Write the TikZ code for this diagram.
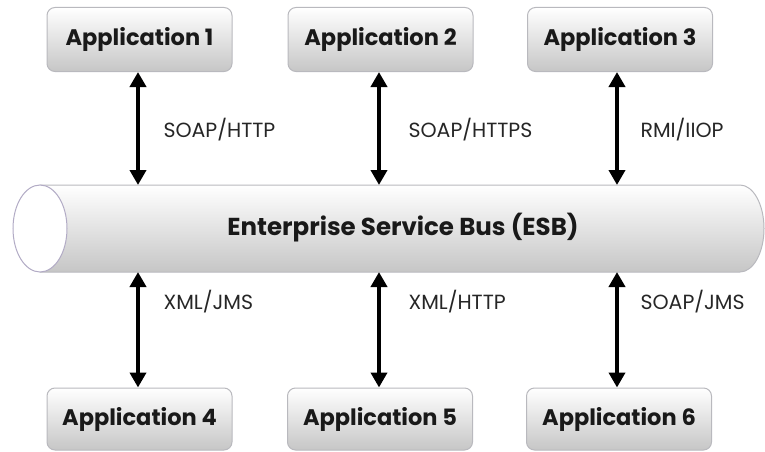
\documentclass[tikz,border=0pt]{standalone}
\usepackage{fontspec}
\setmainfont{Poppins}
\usetikzlibrary{arrows.meta}
\definecolor{boxedge}{RGB}{185,185,190}
\definecolor{boxbot}{RGB}{198,198,198}
\definecolor{capedge}{RGB}{175,165,200}
\tikzset{
  appbox/.style={rounded corners=8pt, minimum width=185pt, minimum height=64pt,
    draw=boxedge, line width=1pt, top color=white, bottom color=boxbot,
    font=\fontsize{22.5}{26}\selectfont\bfseries, text=black!90},
  link/.style={line width=4.5pt, {Triangle[length=15pt,width=16pt]}-{Triangle[length=15pt,width=16pt]}},
  lbl/.style={anchor=west, font=\fontsize{20.5}{24}\selectfont, text=black!85}
}
\begin{document}
\begin{tikzpicture}[x=1pt,y=-1pt]
\useasboundingbox (0,0) rectangle (765,452);
% bus
\shade[top color=white, bottom color=boxbot, draw=boxedge, line width=1pt]
  (40,185) -- (740,185) arc[start angle=-90, end angle=90, x radius=24, y radius=43.5] -- (40,272) -- cycle;
\draw[fill=white, draw=capedge!70!boxedge, line width=1pt] (40,228.5) ellipse[x radius=27, y radius=43.5];
\node[font=\fontsize{24.5}{28}\selectfont\bfseries, text=black!90] (bus) at (403,228) {Enterprise Service Bus (ESB)};
\coordinate (bt1) at (138,185); \coordinate (bt2) at (379,185); \coordinate (bt3) at (617,185);
\coordinate (bb1) at (138,272); \coordinate (bb2) at (379,272); \coordinate (bb3) at (617,272);
% boxes
\node[appbox] (a1) at (139.5,39.5) {Application 1};
\node[appbox] (a2) at (380.5,39.5) {Application 2};
\node[appbox] (a3) at (620,39.5) {Application 3};
\node[appbox, minimum height=62pt] (a4) at (139.5,419) {Application 4};
\node[appbox, minimum height=62pt] (a5) at (380,419) {Application 5};
\node[appbox, minimum height=62pt] (a6) at (619,419) {Application 6};
% links
\draw[link] (a1.south -| bt1) -- (bt1);
\draw[link] (a2.south -| bt2) -- (bt2);
\draw[link] (a3.south -| bt3) -- (bt3);
\draw[link] (bb1) -- (a4.north -| bb1);
\draw[link] (bb2) -- (a5.north -| bb2);
\draw[link] (bb3) -- (a6.north -| bb3);
% labels
\node[lbl] (l1) at (160,130) {SOAP/HTTP};
\node[lbl] (l2) at (405,130) {SOAP/HTTPS};
\node[lbl] (l3) at (637,130) {RMI/IIOP};
\node[lbl] (l4) at (160,302) {XML/JMS};
\node[lbl] (l5) at (405,302) {XML/HTTP};
\node[lbl] (l6) at (637,302) {SOAP/JMS};
\end{tikzpicture}
\end{document}
